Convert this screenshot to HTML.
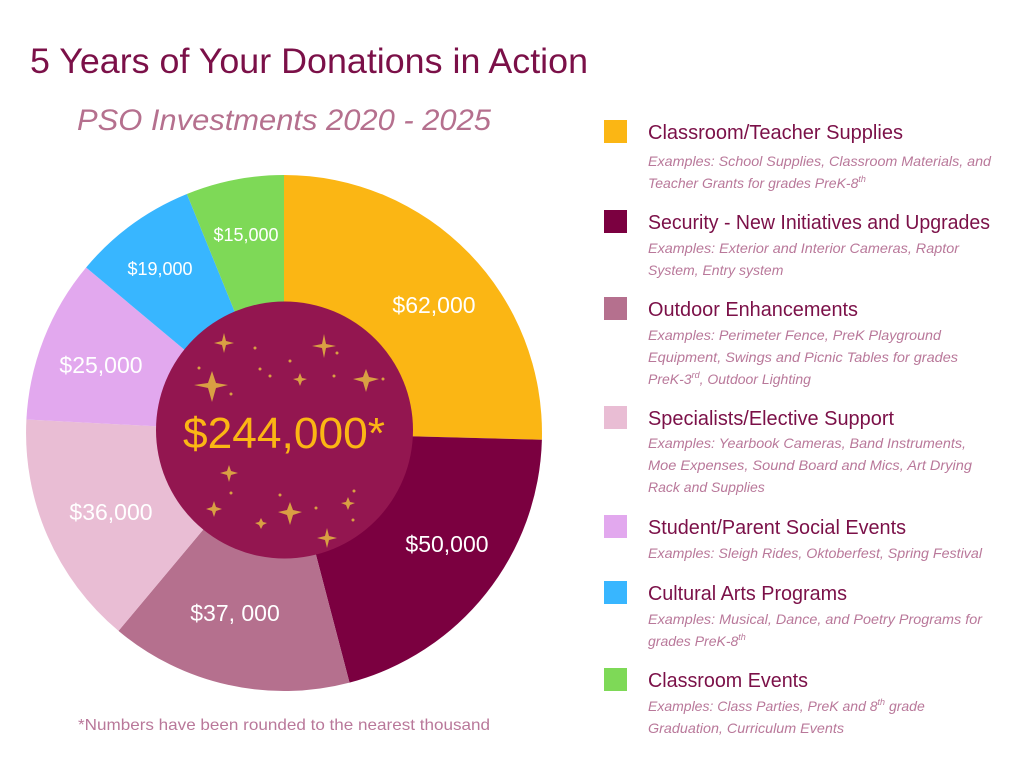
<!DOCTYPE html>
<html><head><meta charset="utf-8"><style>
html,body{margin:0;padding:0;background:#fff;}
svg{display:block;font-family:"Liberation Sans",sans-serif;}
.h{font-size:20px;fill:#7B1048;}
.e{font-size:14px;fill:#B9789A;font-style:italic;}
.l{font-size:23px;fill:#fff;}
</style></head><body>
<svg width="1024" height="768" viewBox="0 0 1024 768" xmlns="http://www.w3.org/2000/svg">
<rect width="1024" height="768" fill="#fff"/>
<text x="30" y="73" font-size="35" fill="#7B1048" textLength="558" lengthAdjust="spacingAndGlyphs">5 Years of Your Donations in Action</text>
<text x="77" y="130" font-size="30" font-style="italic" fill="#B5708E" textLength="414" lengthAdjust="spacingAndGlyphs">PSO Investments 2020 - 2025</text>

<g>
<path d="M284,433 L284,175 A258,258 0 0 1 541.9,439.8 Z" fill="#FBB614"/>
<path d="M284,433 L541.9,439.8 A258,258 0 0 1 349.5,682.6 Z" fill="#7B0040"/>
<path d="M284,433 L349.5,682.6 A258,258 0 0 1 118.5,630.9 Z" fill="#B5708E"/>
<path d="M284,433 L118.5,630.9 A258,258 0 0 1 26.4,419.5 Z" fill="#E9BDD4"/>
<path d="M284,433 L26.4,419.5 A258,258 0 0 1 86.1,267.5 Z" fill="#E2A8EE"/>
<path d="M284,433 L86.1,267.5 A258,258 0 0 1 186.9,194.0 Z" fill="#38B6FF"/>
<path d="M284,433 L186.9,194.0 A258,258 0 0 1 284,175 Z" fill="#7ED957"/>
</g>
<circle cx="284.5" cy="430" r="128.5" fill="#931650"/>
<g fill="#D9A043">
<path d="M208,383 l4,-12 l4,12 l12,2 l-12,3 l-4,14 l-4,-14 l-14,-3 z"/>
<path d="M363,377 l3,-8 l3,8 l10,2 l-10,3 l-3,10 l-3,-10 l-10,-3 z"/>
<path d="M298,378 l2,-5 l2,5 l5,1 l-5,2 l-2,5 l-2,-5 l-5,-2 z"/>
<path d="M227,471 l2,-6 l2,6 l7,2 l-7,2 l-2,7 l-2,-7 l-7,-2 z"/>
<path d="M287,510 l3,-8 l3,8 l9,2 l-9,3 l-3,10 l-3,-10 l-9,-3 z"/>
<path d="M346,502 l2,-5 l2,5 l5,1 l-5,2 l-2,5 l-2,-5 l-5,-2 z"/>
<path d="M259,522 l2,-4 l2,4 l4,1 l-4,2 l-2,4 l-2,-4 l-4,-2 z"/>
<path d="M322,344 l2,-10 l2,10 l10,2 l-10,2 l-2,10 l-2,-10 l-10,-2 z"/>
<path d="M222,341 l2,-8 l2,8 l8,2 l-8,2 l-2,8 l-2,-8 l-8,-2 z"/>
<path d="M325,536 l2,-8 l2,8 l8,2 l-8,2 l-2,8 l-2,-8 l-8,-2 z"/>
<path d="M212,507 l2,-6 l2,6 l6,2 l-6,2 l-2,6 l-2,-6 l-6,-2 z"/>
<circle cx="255" cy="348" r="1.5"/><circle cx="290" cy="361" r="1.5"/><circle cx="270" cy="376" r="1.5"/>
<circle cx="334" cy="376" r="1.5"/><circle cx="383" cy="379" r="1.5"/><circle cx="199" cy="368" r="1.5"/>
<circle cx="231" cy="394" r="1.5"/><circle cx="354" cy="491" r="1.5"/><circle cx="316" cy="508" r="1.5"/>
<circle cx="231" cy="493" r="1.5"/><circle cx="353" cy="520" r="1.5"/><circle cx="280" cy="495" r="1.5"/>
<circle cx="260" cy="369" r="1.5"/><circle cx="337" cy="353" r="1.5"/>
</g>
<text x="284" y="448" text-anchor="middle" font-size="44" fill="#FBB614" textLength="202" lengthAdjust="spacingAndGlyphs">$244,000*</text>

<text class="l" x="434" y="313" text-anchor="middle">$62,000</text>
<text class="l" x="447" y="552" text-anchor="middle">$50,000</text>
<text class="l" x="235" y="621" text-anchor="middle">$37, 000</text>
<text class="l" x="111" y="520" text-anchor="middle">$36,000</text>
<text class="l" x="101" y="373" text-anchor="middle">$25,000</text>
<text x="160" y="275" text-anchor="middle" font-size="18" fill="#fff">$19,000</text>
<text x="246" y="241" text-anchor="middle" font-size="18" fill="#fff">$15,000</text>

<text x="284" y="730" text-anchor="middle" font-size="16" fill="#B9789A" textLength="412" lengthAdjust="spacingAndGlyphs">*Numbers have been rounded to the nearest thousand</text>

<rect x="604" y="120" width="23" height="23" fill="#FBB614"/>
<text class="h" x="648" y="139" textLength="255" lengthAdjust="spacingAndGlyphs">Classroom/Teacher Supplies</text>
<text class="e" x="648" y="166" textLength="343" lengthAdjust="spacingAndGlyphs">Examples: School Supplies, Classroom Materials, and</text>
<text class="e" x="648" y="188">Teacher Grants for grades PreK-8<tspan font-size="9" dy="-6">th</tspan></text>

<rect x="604" y="210" width="23" height="23" fill="#7B0040"/>
<text class="h" x="648" y="229" textLength="342" lengthAdjust="spacingAndGlyphs">Security - New Initiatives and Upgrades</text>
<text class="e" x="648" y="253" textLength="311" lengthAdjust="spacingAndGlyphs">Examples: Exterior and Interior Cameras, Raptor</text>
<text class="e" x="648" y="275">System, Entry system</text>

<rect x="604" y="297" width="23" height="23" fill="#B5708E"/>
<text class="h" x="648" y="316" textLength="210" lengthAdjust="spacingAndGlyphs">Outdoor Enhancements</text>
<text class="e" x="648" y="340" textLength="293" lengthAdjust="spacingAndGlyphs">Examples: Perimeter Fence, PreK Playground</text>
<text class="e" x="648" y="362" textLength="310" lengthAdjust="spacingAndGlyphs">Equipment, Swings and Picnic Tables for grades</text>
<text class="e" x="648" y="384">PreK-3<tspan font-size="9" dy="-6">rd</tspan><tspan dy="6">, Outdoor Lighting</tspan></text>

<rect x="604" y="406" width="23" height="23" fill="#E9BDD4"/>
<text class="h" x="648" y="425" textLength="246" lengthAdjust="spacingAndGlyphs">Specialists/Elective Support</text>
<text class="e" x="648" y="448" textLength="318" lengthAdjust="spacingAndGlyphs">Examples: Yearbook Cameras, Band Instruments,</text>
<text class="e" x="648" y="470" textLength="324" lengthAdjust="spacingAndGlyphs">Moe Expenses, Sound Board and Mics, Art Drying</text>
<text class="e" x="648" y="492">Rack and Supplies</text>

<rect x="604" y="515" width="23" height="23" fill="#E2A8EE"/>
<text class="h" x="648" y="534" textLength="258" lengthAdjust="spacingAndGlyphs">Student/Parent Social Events</text>
<text class="e" x="648" y="558" textLength="334" lengthAdjust="spacingAndGlyphs">Examples: Sleigh Rides, Oktoberfest, Spring Festival</text>

<rect x="604" y="581" width="23" height="23" fill="#38B6FF"/>
<text class="h" x="648" y="600" textLength="199" lengthAdjust="spacingAndGlyphs">Cultural Arts Programs</text>
<text class="e" x="648" y="624" textLength="334" lengthAdjust="spacingAndGlyphs">Examples: Musical, Dance, and Poetry Programs for</text>
<text class="e" x="648" y="646">grades PreK-8<tspan font-size="9" dy="-6">th</tspan></text>

<rect x="604" y="668" width="23" height="23" fill="#7ED957"/>
<text class="h" x="648" y="687" textLength="160" lengthAdjust="spacingAndGlyphs">Classroom Events</text>
<text class="e" x="648" y="711">Examples: Class Parties, PreK and 8<tspan font-size="9" dy="-6">th</tspan><tspan dy="6"> grade</tspan></text>
<text class="e" x="648" y="733" textLength="196" lengthAdjust="spacingAndGlyphs">Graduation, Curriculum Events</text>
</svg>
</body></html>
